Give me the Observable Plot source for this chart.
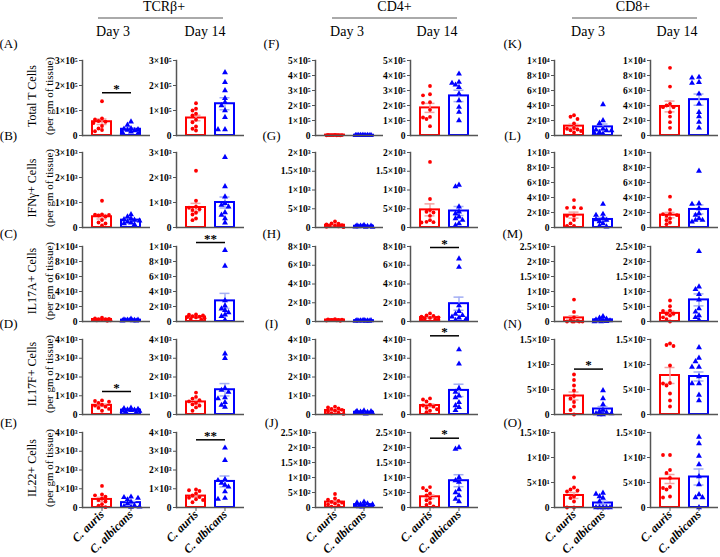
<!DOCTYPE html>
<html><head><meta charset="utf-8">
<script src="https://cdn.jsdelivr.net/npm/d3@7"></script>
<script src="https://cdn.jsdelivr.net/npm/@observablehq/plot@0.6"></script>
<style>
body{margin:0;background:#fff;}
#fig{position:relative;width:720px;height:557px;overflow:hidden;font-family:"Liberation Serif","Times New Roman",serif;color:#000;background:#fff;}
.t{position:absolute;white-space:nowrap;line-height:1;transform:translate(-50%,-50%);}
.hl{position:absolute;height:0;border-top:2px solid #aaa;}
</style></head><body><div id="fig"></div>
<script>
// ---------- categories & labels ----------
const groups = ["C. auris", "C. albicans"];
const days = ["Day 3", "Day 14"];
const cellTypes = ["TCRβ+", "CD4+", "CD8+"];
const rowLabels = ["Total T Cells", "IFNγ+ Cells", "IL17A+ Cells", "IL17F+ Cells", "IL22+ Cells"];
const subLabel = "(per gm of tissue)";
const letters = ["A","B","C","D","E","F","G","H","I","J","K","L","M","N","O"];

// ---------- values: [day3 auris, day3 albicans, day14 auris, day14 albicans] ----------
const A_dots = [
  [137000, 68000, 64000, 58000, 55000, 50000, 38000, 28000, 22000, 17000],
  [55000, 42000, 28000, 26000, 24000, 22000, 20000, 15000, 12000, 8000],
  [129000, 107000, 100000, 87000, 80000, 63000, 53000, 36000, 27000, 20000],
  [252000, 213000, 180000, 149000, 133000, 120000, 100000, 73000, 24000, 24000]];
const A_mean = [55000, 25000, 70000, 127000];
const A_sem = [11000, 5000, 11000, 24000];
const A_ticks = [0, 1e5, 2e5, 3e5];

const B_dots = [
  [1070, 520, 515, 500, 480, 440, 300, 200, 160, 80],
  [520, 430, 360, 320, 300, 270, 230, 190, 160, 120],
  [2270, 1070, 830, 790, 735, 700, 590, 520, 360, 295],
  [2810, 1640, 1230, 965, 900, 830, 600, 500, 360, 190]];
const B_mean = [430, 295, 800, 1000];
const B_sem = [90, 40, 165, 220];
const B_ticks = [0, 1000, 2000, 3000];

const C_dots = [
  [500, 400, 350, 300, 300, 250, 200, 150, 150, 100],
  [350, 250, 220, 200, 180, 150, 150, 120, 100, 80],
  [950, 900, 800, 700, 650, 600, 550, 450, 350, 250],
  [9500, 7400, 2800, 2100, 1700, 1500, 1200, 900, 700, 200]];
const C_mean = [270, 180, 600, 2750];
const C_sem = [40, 30, 70, 1000];
const C_ticks = [0, 2000, 4000, 6000, 8000, 10000];

const D_dots = [
  [750, 720, 680, 620, 520, 470, 420, 350, 300, 200],
  [350, 320, 290, 260, 240, 220, 200, 180, 150, 120],
  [1170, 937, 847, 760, 700, 620, 540, 470, 380, 200],
  [3240, 3000, 1400, 1300, 1200, 900, 850, 650, 500, 400]];
const D_mean = [490, 234, 670, 1320];
const D_sem = [60, 25, 90, 330];
const D_ticks = [0, 1000, 2000, 3000, 4000];

const E_dots = [
  [1150, 700, 650, 580, 480, 400, 320, 180, 100, 20],
  [570, 540, 500, 420, 300, 200, 100, 60, 40, 20],
  [960, 920, 880, 750, 640, 560, 520, 440, 400, 280],
  [3180, 2520, 1500, 1450, 1300, 1200, 1100, 850, 500, 450]];
const E_mean = [430, 260, 610, 1390];
const E_sem = [110, 65, 65, 290];
const E_ticks = [0, 1000, 2000, 3000, 4000];

const F_dots = [
  [4000, 3500, 3000, 2800, 2500, 2200, 2000, 1800, 1500, 1200],
  [3000, 2500, 2200, 2000, 1800, 1500, 1500, 1200, 1000, 800],
  [330000, 275000, 268000, 222000, 218000, 171000, 124000, 120000, 110000, 62000],
  [411000, 356000, 349000, 338000, 322000, 278000, 233000, 189000, 156000, 100000]];
const F_mean = [2500, 1800, 184000, 264000];
const F_sem = [300, 200, 30000, 38000];
const F_ticks = [0, 1e5, 2e5, 3e5, 4e5, 5e5];

const G_dots = [
  [160, 110, 100, 80, 60, 50, 40, 30, 20, 10],
  [60, 50, 45, 40, 35, 30, 25, 20, 15, 10],
  [1750, 760, 464, 420, 400, 312, 196, 152, 143, 134],
  [1134, 1089, 554, 420, 375, 286, 241, 196, 107, 62]];
const G_mean = [60, 33, 470, 440];
const G_sem = [15, 5, 160, 120];
const G_ticks = [0, 500, 1000, 1500, 2000];

const H_dots = [
  [250, 220, 200, 180, 160, 150, 140, 120, 100, 80],
  [150, 120, 110, 100, 90, 80, 70, 60, 50, 40],
  [860, 650, 600, 520, 450, 380, 300, 250, 200, 150],
  [6690, 5800, 1700, 1100, 800, 650, 500, 400, 250, 150]];
const H_mean = [160, 90, 420, 1900];
const H_sem = [20, 12, 70, 700];
const H_ticks = [0, 2000, 4000, 6000, 8000];

const I_dots = [
  [420, 380, 330, 300, 250, 200, 150, 100, 60, 30],
  [200, 180, 160, 140, 120, 110, 100, 80, 60, 40],
  [860, 800, 700, 520, 480, 420, 350, 280, 200, 120],
  [3460, 2700, 1400, 1200, 1000, 900, 650, 480, 390, 220]];
const I_mean = [215, 120, 480, 1285];
const I_sem = [40, 15, 75, 330];
const I_ticks = [0, 1000, 2000, 3000, 4000];

const J_dots = [
  [450, 300, 260, 220, 190, 160, 130, 100, 60, 30],
  [190, 160, 130, 110, 100, 80, 60, 40, 30, 20],
  [680, 650, 570, 470, 400, 300, 240, 150, 90, 40],
  [2000, 1950, 1000, 900, 850, 600, 500, 400, 280, 200]];
const J_mean = [180, 95, 357, 893];
const J_sem = [40, 20, 60, 200];
const J_ticks = [0, 500, 1000, 1500, 2000, 2500];

const K_dots = [
  [2700, 2500, 2200, 1600, 1000, 900, 800, 700, 600, 400],
  [4130, 2000, 1640, 890, 760, 670, 670, 440, 310, 220],
  [9020, 6530, 4220, 4000, 3780, 3780, 3110, 2530, 1780, 1020],
  [7780, 7690, 7110, 6980, 5560, 4220, 3110, 2530, 1780, 1020]];
const K_mean = [1250, 1150, 3870, 4780];
const K_sem = [250, 380, 720, 750];
const K_ticks = [0, 2000, 4000, 6000, 8000, 10000];

const L_dots = [
  [366, 268, 263, 258, 160, 156, 100, 54, 22, 22],
  [312, 178, 165, 120, 107, 98, 80, 54, 22, 10],
  [411, 236, 183, 178, 165, 156, 120, 98, 67, 45],
  [754, 321, 312, 254, 187, 165, 120, 98, 98, 76]];
const L_mean = [165, 107, 165, 241];
const L_sem = [40, 28, 36, 60];
const L_ticks = [0, 200, 400, 600, 800, 1000];

const M_dots = [
  [73, 32, 14, 5, 2, 0, 0, 0, 0, 0],
  [17, 12, 9, 6, 4, 3, 2, 1, 0, 0],
  [70, 51, 37, 35, 26, 26, 20, 14, 8, 0],
  [234, 116, 107, 91, 72, 43, 32, 20, 14, 5]];
const M_mean = [12, 5.5, 27, 72];
const M_sem = [7, 2, 7, 20];
const M_ticks = [0, 50, 100, 150, 200, 250];

const N_dots = [
  [80, 69, 58, 48, 37, 32, 25, 16, 9, 0],
  [48, 32, 20, 9, 6, 4, 2, 2, 0, 0],
  [142, 139, 137, 98, 63, 62, 58, 42, 28, 16],
  [134, 113, 106, 95, 95, 76, 62, 62, 39, 28]];
const N_mean = [37, 11, 78, 76];
const N_sem = [8, 5, 16, 9];
const N_ticks = [0, 50, 100, 150];

const O_dots = [
  [60, 40, 36, 34, 32, 22, 19, 12, 0, 0],
  [29, 27, 22, 19, 12, 0, 0, 0, 0, 0],
  [105, 105, 75, 69, 59, 41, 39, 36, 22, 20],
  [141, 128, 103, 86, 62, 46, 26, 20, 20, 0]];
const O_mean = [24, 9, 57, 61];
const O_sem = [6, 3.5, 9, 16];
const O_ticks = [0, 50, 100, 150];

// significance brackets
const sigPanel = ["A", "C", "D", "E", "H", "I", "J", "N"];
const sigDay = [0, 1, 0, 1, 1, 1, 1, 0];
const sigText = ["*", "**", "*", "**", "*", "*", "*", "*"];
const sigLevel = [171000, 10530, 1227, 3610, 7893, 4197, 2310, 90.8];

// ---------- tables built from the arrays ----------
const DOTS = {A:A_dots,B:B_dots,C:C_dots,D:D_dots,E:E_dots,F:F_dots,G:G_dots,H:H_dots,I:I_dots,J:J_dots,K:K_dots,L:L_dots,M:M_dots,N:N_dots,O:O_dots};
const MEANS = {A:A_mean,B:B_mean,C:C_mean,D:D_mean,E:E_mean,F:F_mean,G:G_mean,H:H_mean,I:I_mean,J:J_mean,K:K_mean,L:L_mean,M:M_mean,N:N_mean,O:O_mean};
const SEMS = {A:A_sem,B:B_sem,C:C_sem,D:D_sem,E:E_sem,F:F_sem,G:G_sem,H:H_sem,I:I_sem,J:J_sem,K:K_sem,L:L_sem,M:M_sem,N:N_sem,O:O_sem};
const TICKS = {A:A_ticks,B:B_ticks,C:C_ticks,D:D_ticks,E:E_ticks,F:F_ticks,G:G_ticks,H:H_ticks,I:I_ticks,J:J_ticks,K:K_ticks,L:L_ticks,M:M_ticks,N:N_ticks,O:O_ticks};

// ---------- style / layout ----------
const FONT = "'Liberation Serif','Times New Roman',serif";
const COLORS = ["#ff0000", "#0000ff"];
const LIGHT = ["#f4a3a3", "#a3aef4"];
const SYMBOLS = ["circle", "triangle"];
const RADII = [1.9, 2.2];
const AXIS = "#555";
const colX = [82, 176, 315, 410, 554, 650];
const rowZero = [135, 227.3, 320.7, 413.7, 507];
const PH = 75, PW = 68, ML = 48, MR = 3, MT = 26, MB = 3, MB_LAST = 60;
const PAD = 0.345;
const STEP = PW / (2 + PAD);

const SUP = {"0":"⁰","1":"¹","2":"²","3":"³","4":"⁴","5":"⁵","6":"⁶","7":"⁷","8":"⁸","9":"⁹"};
function fmt(v) {
  if (v === 0) return "0";
  const e = Math.floor(Math.log10(v) + 1e-9);
  const m = +(v / Math.pow(10, e)).toFixed(2);
  return m + "×10" + String(e).split("").map(c => SUP[c]).join("");
}

// simple deterministic scatter layout: horizontal pixel offsets avoiding overlap
function offsets(values, ymax) {
  const cands = [0, -3.5, 3.5, -7, 7, -1.75, 1.75, -5.25, 5.25, -8.5, 8.5];
  const idx = values.map((v, i) => i).sort((a, b) => values[b] - values[a]);
  const placed = [], out = new Array(values.length);
  for (const i of idx) {
    const y = values[i] / ymax * PH;
    let best = 0, bestD = -1;
    for (const c of cands) {
      let md = Infinity;
      for (const p of placed) md = Math.min(md, Math.hypot(c - p[0], y - p[1]));
      if (md >= 3.8) { best = c; bestD = Infinity; break; }
      if (md > bestD) { bestD = md; best = c; }
    }
    placed.push([best, y]); out[i] = best;
  }
  return out;
}

const fig = document.getElementById("fig");
function addText(txt, x, y, size, extra) {
  const d = document.createElement("div");
  d.className = "t"; d.textContent = txt;
  d.style.left = x + "px"; d.style.top = y + "px"; d.style.fontSize = size + "px";
  if (extra) Object.assign(d.style, extra);
  fig.append(d);
}

for (let g = 0; g < 3; g++) {
  for (let r = 0; r < 5; r++) {
    const letter = letters[g * 5 + r];
    const ticks = TICKS[letter];
    const ymax = ticks[ticks.length - 1];
    for (let d = 0; d < 2; d++) {
      const col = g * 2 + d;
      const last = r === 4;
      const mb = last ? MB_LAST : MB;
      const stats = groups.map((grp, k) => ({
        group: grp, mean: MEANS[letter][d * 2 + k], sem: SEMS[letter][d * 2 + k],
        color: COLORS[k], light: LIGHT[k]
      }));
      const marks = [
        Plot.barY(stats, {x: "group", y: "mean", fill: "white", stroke: "color", strokeWidth: 2}),
        Plot.ruleX(stats, {x: "group", y1: s => s.mean - s.sem, y2: s => s.mean + s.sem, stroke: "light", strokeWidth: 1.5}),
        Plot.tickY(stats, {x: "group", y: s => s.mean + s.sem, stroke: "light", strokeWidth: 1.5, insetLeft: 4.5, insetRight: 4.5}),
        Plot.tickY(stats, {x: "group", y: s => s.mean - s.sem, stroke: "light", strokeWidth: 1.5, insetLeft: 4.5, insetRight: 4.5})
      ];
      groups.forEach((grp, k) => {
        const vals = DOTS[letter][d * 2 + k];
        const offs = offsets(vals, ymax);
        const uniq = Array.from(new Set(offs));
        for (const o of uniq) {
          const sub = vals.filter((v, i) => offs[i] === o);
          marks.push(Plot.dot(sub, {x: () => grp, y: v => v, dx: o, r: RADII[k], symbol: SYMBOLS[k], fill: COLORS[k], stroke: "none"}));
        }
      });
      marks.push(
        Plot.frame({anchor: "left", stroke: AXIS, strokeWidth: 1.5}),
        Plot.ruleY([0], {stroke: AXIS, strokeWidth: 1.5}),
        Plot.axisY({ticks, tickFormat: fmt, tickSize: 3, tickPadding: 2, fontSize: 9.5, fontWeight: "bold", fontFamily: FONT, stroke: AXIS, fill: "#000", label: null})
      );
      if (last) {
        marks.push(Plot.axisX({tickRotate: -45, tickSize: 4, tickPadding: 1, fontSize: 12, fontWeight: "bold", fontStyle: "italic", fontFamily: FONT, stroke: AXIS, fill: "#000", label: null}));
      }
      sigPanel.forEach((p, j) => {
        if (p === letter && sigDay[j] === d) {
          const s = [{lvl: sigLevel[j], txt: sigText[j]}];
          marks.push(
            Plot.link(s, {x1: () => groups[0], x2: () => groups[1], y1: "lvl", y2: "lvl", stroke: "#000", strokeWidth: 1.5}),
            Plot.text(s, {x: () => groups[0], y: "lvl", text: "txt", dx: STEP / 2, dy: -4, fontSize: 13, fontWeight: "bold", fontFamily: FONT, fill: "#000"})
          );
        }
      });
      const svg = Plot.plot({
        width: ML + PW + MR, height: MT + PH + mb,
        marginLeft: ML, marginRight: MR, marginTop: MT, marginBottom: mb,
        x: {type: "band", domain: groups, padding: PAD, round: false, axis: null},
        y: {domain: [0, ymax], axis: null},
        color: {type: "identity"},
        style: {background: "none", overflow: "visible", fontFamily: FONT},
        marks
      });
      svg.style.position = "absolute";
      svg.style.left = (colX[col] - ML) + "px";
      svg.style.top = (rowZero[r] - PH - MT) + "px";
      fig.append(svg);
    }
  }
}

// headers
const headCenters = [164, 394.5, 633];
const headLines = [[98, 223], [332, 457], [572, 697]];
const dayCenters = [[113, 205], [347, 437], [588, 677]];
cellTypes.forEach((c, g) => {
  addText(c, headCenters[g], 7, 14);
  const l = document.createElement("div");
  l.className = "hl";
  l.style.left = headLines[g][0] + "px"; l.style.width = (headLines[g][1] - headLines[g][0]) + "px"; l.style.top = "17px";
  fig.append(l);
  days.forEach((dy, d) => addText(dy, dayCenters[g][d], 32, 14));
});
// panel letters
const letterX = [8.5, 271.5, 512.5];
const letterY = [43, 135, 233, 323, 422];
for (let g = 0; g < 3; g++) for (let r = 0; r < 5; r++) addText("(" + letters[g * 5 + r] + ")", letterX[g], letterY[r], 13);
// row labels
rowLabels.forEach((lab, r) => {
  const cy = rowZero[r] - PH / 2 - 2;
  addText(lab, 32, cy, 12, {transform: "translate(-50%,-50%) rotate(-90deg)"});
  addText(subLabel, 49, cy, 11, {transform: "translate(-50%,-50%) rotate(-90deg)"});
});
</script></body></html>
